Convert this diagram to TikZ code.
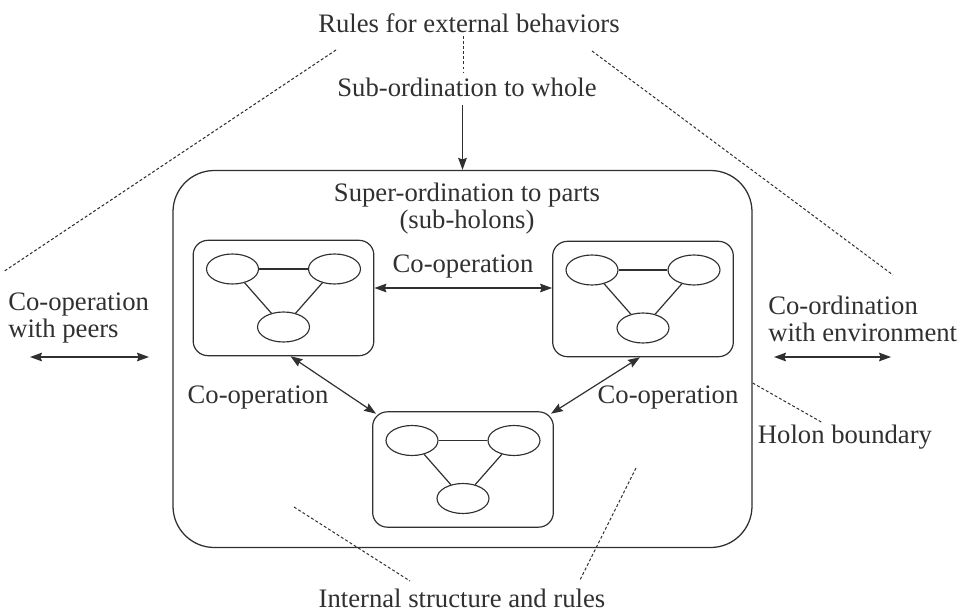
\documentclass[tikz,border=0pt]{standalone}
\usepackage{fontspec}
\setmainfont{Liberation Serif}
\usetikzlibrary{arrows.meta,calc,shapes.geometric}

\definecolor{ink}{HTML}{303030}

\tikzset{
  lbl/.style={inner sep=0pt, text=ink, font=\fontsize{20}{20.25}\selectfont},
  holonbox/.style={draw=ink, line width=0.95pt, rounded corners=31pt,
    minimum width=434.25pt, minimum height=282.75pt},
  subbox/.style={draw=ink, line width=0.9pt, rounded corners=11pt,
    minimum width=135.5pt, minimum height=86.5pt},
  part/.style={draw=ink, ellipse, line width=0.85pt, inner sep=0pt,
    minimum width=39pt, minimum height=22.5pt},
  link/.style={draw=ink, line width=0.9pt},
  arr/.style={draw=ink, line width=0.9pt, -{Stealth[length=9pt,width=6.5pt,inset=1.2pt]}},
  biarr/.style={draw=ink, line width=0.9pt,
    {Stealth[length=9pt,width=6.5pt,inset=1.2pt]}-{Stealth[length=9pt,width=6.5pt,inset=1.2pt]}},
  guide/.style={draw=ink, line width=0.75pt, dash pattern=on 2.2pt off 1.6pt},
}

\begin{document}
\begin{tikzpicture}[x=0.75pt,y=-0.75pt]
\useasboundingbox (0,0) rectangle (968,613);

% holon and its sub-holons
\node[holonbox] (holon) at (462.5,359) {};
\node[subbox] (lbox) at (283.5,298) {};
\node[subbox] (rbox) at (643,299) {};
\node[subbox] (bbox) at (463,469.5) {};

% parts inside each sub-holon
\foreach \b in {lbox,rbox,bbox}{
  \node[part] (\b-a) at ($(\b.center)+(-51,-29)$) {};
  \node[part] (\b-b) at ($(\b.center)+(51,-29)$) {};
  \node[part] (\b-c) at ($(\b.center)+(0,29)$) {};
  \draw[link] (\b-a) -- (\b-b);
  \draw[link] (\b-a) -- (\b-c);
  \draw[link] (\b-b) -- (\b-c);
}

% texts
\node[lbl] (rules) at (469,23) {Rules for external behaviors};
\node[lbl] (sub) at (467,87) {Sub-ordination to whole};
\node[lbl, align=center] (super) at (467,208.5) {Super-ordination to parts\\(sub-holons)};
\node[lbl] (coop-top) at (463,267) {Co-operation};
\node[lbl] (coop-left) at (258,398) {Co-operation};
\node[lbl] (coop-right) at (668,398) {Co-operation};
\node[lbl, align=left, anchor=west] (peers) at (8,318.5) {Co-operation\\with peers};
\node[lbl, align=left, anchor=west] (env) at (768,318.5) {Co-ordination\\with environment};
\node[lbl] (boundary) at (845,437) {Holon boundary};
\node[lbl] (internal) at (462,598) {Internal structure and rules};

% arrows
\draw[arr] ($(sub.south -| holon.north)+(0,8)$) -- (holon.north);
\draw[biarr] (lbox.east |- 0,288) -- (rbox.west |- 0,288);
\draw[biarr] ($(lbox.south)+(7,0)$) -- ($(bbox.north west)+(4,2.5)$);
\draw[biarr] ($(rbox.south)+(-3,0)$) -- ($(bbox.north east)+(-3,2.5)$);
\coordinate (peers-l) at (30,357);
\coordinate (peers-r) at (149,357);
\coordinate (env-l) at (774,357);
\coordinate (env-r) at (891,357);
\draw[biarr] (peers-l) -- (peers-r);
\draw[biarr] (env-l) -- (env-r);

% guide lines
\coordinate (rules-lend) at (3,272);
\coordinate (rules-rend) at (893,275);
\draw[guide] (336,50) -- (rules-lend);
\draw[guide] (592,51) -- (rules-rend);
\draw[guide] ([yshift=-2.5pt]rules.south -| 463,0) -- ([yshift=4pt]sub.north -| 463,0);
\draw[guide] (holon.east |- 0,383) -- (823,423);
\draw[guide] (294,507) -- (410,581);
\draw[guide] (636,468) -- (580,580);
\end{tikzpicture}
\end{document}
